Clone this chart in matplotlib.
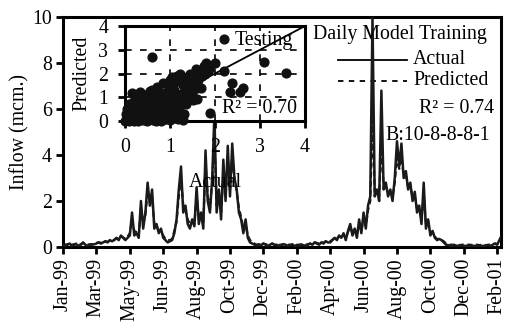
import numpy as np
import matplotlib
matplotlib.use("Agg")
import matplotlib.pyplot as plt

plt.rcParams['font.family'] = ['Liberation Serif', 'DejaVu Serif']
plt.rcParams['font.size'] = 14.3

# daily inflow (mcm.), one value every 4 days from 1 Jan 1999
step_days = 4
actual = [
    0.10, 0.05, 0.10, 0.15, 0.05, 0.10, 0.12, 0.05, 0.10, 0.20, 0.10, 0.05, 0.10,
    0.10, 0.12, 0.15, 0.20, 0.15, 0.20, 0.25, 0.20, 0.30, 0.25,
    0.30, 0.40, 0.30, 0.50, 0.40, 0.30,
    0.40, 0.50, 1.50, 0.50, 0.60, 0.40,
    2.00, 0.80, 1.50, 2.80, 1.80, 2.50,
    0.80, 1.00, 0.60, 0.80, 0.40, 0.30, 0.20, 0.25, 0.30,
    0.60, 1.20, 2.50, 3.50, 1.50, 1.80, 1.00, 0.80, 1.20, 0.90,
    2.60, 1.00, 1.50, 0.80, 4.20, 2.00, 1.50, 3.00, 5.80, 1.50,
    2.50, 1.20, 3.80, 2.00, 4.40, 2.20, 4.50, 3.00, 2.50, 1.50,
    1.20, 0.60, 1.20, 0.40, 0.20, 0.15,
    0.10, 0.05, 0.12, 0.08, 0.15, 0.10, 0.05, 0.10, 0.15, 0.08, 0.10, 0.05,
    0.08, 0.12, 0.10, 0.05, 0.08, 0.10, 0.05, 0.08, 0.05, 0.10, 0.08, 0.05,
    0.10, 0.15, 0.10, 0.20, 0.15, 0.10, 0.20, 0.15, 0.25, 0.20,
    0.20, 0.30, 0.40, 0.30, 0.50, 0.40, 0.60, 0.30, 0.70, 1.00, 0.50, 0.80,
    0.40, 1.20, 0.60, 1.50, 0.80, 1.80, 2.20,
    10.0, 2.20, 2.50, 2.00, 6.80, 2.50, 2.80, 2.20, 2.50, 2.00, 3.00,
    4.60, 3.50, 4.50, 3.00, 3.30, 2.50, 2.80, 2.00, 2.40, 1.50, 1.80,
    1.00, 2.80, 0.80, 1.20, 0.50, 0.70, 0.40, 0.30, 0.35, 0.30, 0.20,
    0.10, 0.08, 0.05, 0.05, 0.08, 0.05, 0.05, 0.05, 0.05, 0.05, 0.05, 0.05,
    0.05, 0.05, 0.05, 0.05, 0.05, 0.05, 0.05, 0.08, 0.05, 0.10, 0.15, 0.10,
    0.30, 0.50,
]
predicted = [
    0.15, 0.10, 0.12, 0.15, 0.10, 0.12, 0.15, 0.10, 0.12, 0.18, 0.12, 0.10,
    0.12, 0.12, 0.15, 0.18, 0.20, 0.18, 0.22, 0.25, 0.22, 0.28, 0.28, 0.32,
    0.38, 0.35, 0.45, 0.42, 0.35,
    0.45, 0.60, 1.20, 0.70, 0.65, 0.50, 1.70, 1.00, 1.40, 2.40, 2.00, 2.20,
    1.00, 0.90, 0.70, 0.70, 0.50, 0.35, 0.30, 0.30, 0.35,
    0.70, 1.10, 2.20, 3.00, 1.80, 1.60, 1.20, 1.00, 1.10, 1.00,
    2.20, 1.20, 1.40, 1.00, 3.60, 2.20, 1.70, 2.80, 4.80, 1.80,
    2.40, 1.50, 3.20, 2.30, 3.80, 2.50, 3.90, 3.00, 2.40, 1.70,
    1.30, 0.80, 1.00, 0.50, 0.30, 0.20,
    0.15, 0.10, 0.12, 0.10, 0.15, 0.12, 0.10, 0.12, 0.15, 0.10, 0.12, 0.10,
    0.10, 0.12, 0.12, 0.10, 0.10, 0.12, 0.10, 0.10, 0.10, 0.12, 0.10, 0.10,
    0.12, 0.15, 0.12, 0.20, 0.18, 0.15, 0.22, 0.18, 0.25, 0.22,
    0.25, 0.32, 0.40, 0.35, 0.48, 0.42, 0.55, 0.40, 0.65, 0.90, 0.60, 0.75,
    0.55, 1.00, 0.70, 1.30, 0.90, 1.60, 2.00,
    5.50, 2.40, 2.40, 2.20, 4.50, 2.60, 2.60, 2.40, 2.40, 2.20, 2.80,
    3.90, 3.40, 3.90, 3.10, 3.10, 2.60, 2.60, 2.20, 2.20, 1.70, 1.70,
    1.20, 2.20, 1.00, 1.10, 0.65, 0.65, 0.45, 0.35, 0.35, 0.30, 0.25,
    0.15, 0.12, 0.10, 0.10, 0.10, 0.10, 0.08, 0.10, 0.10, 0.08, 0.10, 0.10,
    0.08, 0.10, 0.10, 0.08, 0.10, 0.10, 0.08, 0.10, 0.10, 0.12, 0.15, 0.12,
    0.25, 0.40,
]

month_labels = ['Jan-99', 'Mar-99', 'May-99', 'Jun-99', 'Aug-99', 'Oct-99',
                'Dec-99', 'Feb-00', 'Apr-00', 'Jun-00', 'Aug-00', 'Oct-00',
                'Dec-00', 'Feb-01']
tick_step = 60

# testing period scatter
test_actual = [
    0.02, 0.05, 0.08, 0.10, 0.03, 0.12, 0.15, 0.18, 0.20, 0.05, 0.10, 0.22,
    0.25, 0.28, 0.30, 0.32, 0.35, 0.38, 0.40, 0.42, 0.45, 0.48, 0.50, 0.52,
    0.55, 0.58, 0.60, 0.62, 0.65, 0.68, 0.70, 0.72, 0.75, 0.78, 0.80, 0.82,
    0.85, 0.88, 0.90, 0.92, 0.95, 0.98, 1.00, 1.02, 1.05, 1.08, 1.10, 1.12,
    1.15, 1.18, 1.20, 1.22, 1.25, 1.28, 1.30, 1.32, 1.35, 1.38, 1.40, 1.42,
    1.45, 1.48, 1.50, 1.52, 1.55, 1.58, 1.60, 1.62, 1.65, 1.70, 1.72, 1.75,
    1.78, 1.81, 1.85, 1.90, 2.00, 2.21, 1.59, 1.89, 0.15, 0.59, 2.21, 3.10,
    3.57, 2.37, 2.33, 2.56, 2.62, 1.22, 1.05, 0.33, 0.25, 0.45,
    0.00, 0.10, 0.20, 0.30, 0.40, 0.50, 0.60, 0.70, 0.80, 0.90, 1.00, 1.10,
    1.30, 0.15, 0.35, 0.55, 0.75, 0.95, 0.08, 0.18, 0.28, 0.65, 0.85, 1.15,
]
test_pred = [
    0.05, 0.10, 0.20, 0.05, 0.30, 0.40, 0.15, 0.30, 0.10, 0.50, 0.60, 0.50,
    0.25, 0.05, 0.40, 0.70, 0.20, 0.55, 0.90, 0.10, 0.35, 0.70, 1.10, 0.20,
    0.50, 0.85, 1.30, 0.05, 0.35, 0.65, 1.00, 1.45, 0.20, 0.55, 0.85, 1.20,
    1.60, 0.10, 0.40, 0.75, 1.05, 1.40, 1.75, 0.25, 0.60, 0.95, 1.30, 1.65,
    1.90, 0.10, 0.45, 0.80, 1.15, 1.50, 1.85, 0.30, 0.70, 1.05, 1.40, 1.75,
    2.00, 1.20, 1.60, 0.90, 1.95, 2.20, 1.40, 1.75, 2.10, 1.38, 1.90, 2.30,
    2.00, 2.43, 2.10, 2.25, 2.43, 2.10, 0.95, 0.34, 1.17, 2.68, 3.44, 2.50,
    2.03, 1.59, 1.23, 1.23, 1.39, 2.00, 1.85, 1.23, 0.90, 1.10,
    0.00, 0.00, 0.02, 0.00, 0.05, 0.00, 0.10, 0.02, 0.00, 0.10, 0.05, 0.15,
    0.05, 0.60, 0.95, 1.25, 1.10, 0.80, 0.70, 0.80, 0.45, 0.50, 0.30, 0.60,
]

days_a = np.arange(len(actual)) * step_days
days_p = np.arange(len(predicted)) * step_days

fig = plt.figure(figsize=(5.07, 3.29), dpi=100)
ax = fig.add_axes([0.1243, 0.2492, 0.864, 0.699])

ax.plot(days_a, actual, color='#1a1a1a', lw=1.8, zorder=3)
ax.plot(days_p, predicted, color='#1a1a1a', lw=1.6, ls=(0, (2.5, 1.5)), zorder=2)

ax.set_xlim(0, 787)
ax.set_ylim(0, 10)
ax.set_yticks([0, 2, 4, 6, 8, 10])
ax.set_xticks(np.arange(len(month_labels)) * tick_step)
ax.set_xticklabels(month_labels, rotation=90)
ax.set_ylabel('Inflow (mcm.)', labelpad=2)
ax.tick_params(direction='out', length=5, width=2, pad=3)
for sp in ax.spines.values():
    sp.set_linewidth(2.2)

# legend block
tr = ax.transAxes
ax.text(0.769, 0.922, 'Daily Model Training', transform=tr, ha='center', va='center')
ax.plot([0.628, 0.785], [0.813, 0.813], transform=tr, color='black', lw=1.3)
ax.text(0.799, 0.817, 'Actual', transform=tr, ha='left', va='center')
ax.plot([0.628, 0.785], [0.722, 0.722], transform=tr, color='black', lw=1.3, ls=(0, (3, 3)))
ax.text(0.799, 0.726, 'Predicted', transform=tr, ha='left', va='center')
ax.text(0.984, 0.604, 'R² = 0.74', transform=tr, ha='right', va='center')
ax.text(0.975, 0.487, 'B:10-8-8-8-1', transform=tr, ha='right', va='center')

# inset scatter of the testing period
ins = fig.add_axes([0.2465, 0.632, 0.355, 0.2888])
ins.set_facecolor('white')
ins.set_xlim(0, 4)
ins.set_ylim(0, 4)
ins.set_xticks([0, 1, 2, 3, 4])
ins.set_yticks([0, 1, 2, 3, 4])
for v in [1, 2, 3]:
    ins.axhline(v, color='black', lw=1.2, ls=(0, (4, 5)), zorder=1)
    ins.axvline(v, color='black', lw=1.2, ls=(0, (4, 5)), zorder=1)
ins.plot([0, 4], [0, 4], color='black', lw=1.3, zorder=2)
ins.scatter(test_actual, test_pred, s=40, color='#111111', zorder=3, clip_on=False)
ins.text(2.44, 3.41, 'Testing', ha='left', va='center', zorder=4)
ins.text(3.82, 0.55, 'R² = 0.70', ha='right', va='center', zorder=4)
ins.set_xlabel('Actual', labelpad=12)
ins.set_ylabel('Predicted', labelpad=5)
ins.tick_params(direction='out', length=5, width=2, pad=7)
for sp in ins.spines.values():
    sp.set_linewidth(2.2)

fig.savefig('out.png', dpi=100)
